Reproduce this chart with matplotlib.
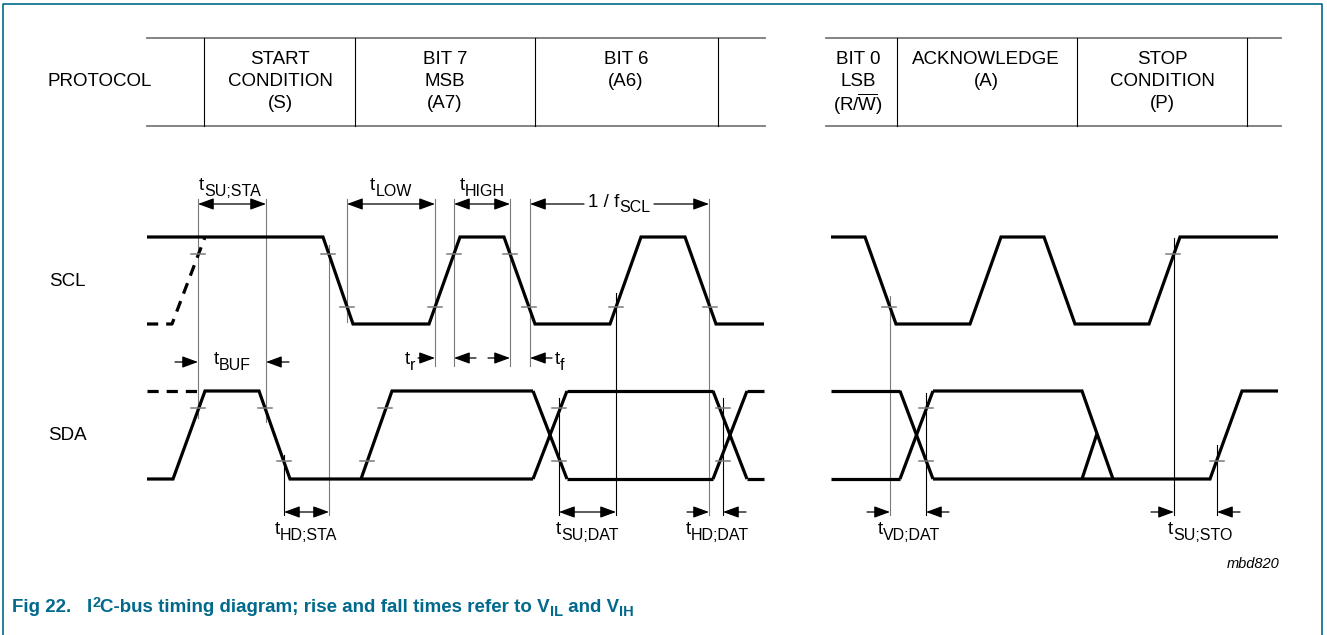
import matplotlib
matplotlib.use("Agg")
import matplotlib.pyplot as plt

plt.rcParams['font.family'] = ['Liberation Sans', 'DejaVu Sans']

# ---------------------------------------------------------------------
# Diagram geometry (pixel space of the 1327 x 635 picture)
# ---------------------------------------------------------------------
W, H = 1327, 635
TEAL = '#00698c'
GRAY = '#7a7a7a'
FS, FS_SUB = 13.5, 11.5

# signal levels and VIL / VIH thresholds
SCL_HI, SCL_LO = 237, 324
SDA_HI, SDA_LO = 391, 479
SCL_VIH, SCL_VIL = 254, 307
SDA_VIH, SDA_VIL = 408, 461

# waveform break points: x positions and logic state (1 = high)
scl_a_x = [147, 323, 353, 429, 460, 504, 535, 610, 641, 685, 716, 764]
scl_a_s = [1, 1, 0, 0, 1, 1, 0, 0, 1, 1, 0, 0]
scl_dash_x = [147, 172, 205]
scl_dash_s = [0, 0, 1]
scl_b_x = [831, 865, 896, 970, 1001, 1044, 1075, 1149, 1180, 1278]
scl_b_s = [1, 1, 0, 0, 1, 1, 0, 0, 1, 1]

sda_dash_x = [147, 198]
sda_main_x = [147, 173, 205, 259, 290, 533]
sda_main_s = [0, 0, 1, 1, 0, 0]
sda_rise_x = [361, 392, 533]
sda_rise_s = [0, 1, 1]
sda_cross = [(533, 567), (713, 747), (900, 933)]
sda_rails = [(567, 713), (747, 764), (831, 900)]
sda_b_hi_x = [933, 1082, 1113]
sda_b_hi_s = [1, 1, 0]
sda_b_lo_x = [933, 1210, 1242, 1278]
sda_b_lo_s = [0, 0, 1, 1]
sda_partial = (1082, 1097)

# threshold tick marks
scl_vih_ticks = [198, 328, 454, 510, 1173]
scl_vil_ticks = [347, 435, 529, 616, 710, 889]
sda_vih_ticks = [198, 265, 385, 559, 723, 926]
sda_vil_ticks = [284, 367, 559, 723, 926, 1217]

# vertical reference lines: x, top, bottom, colour
vlines = [
    (198, 199, 418, GRAY), (266, 199, 422, GRAY), (329, 245, 515, GRAY),
    (347, 199, 322, GRAY), (435, 199, 366, GRAY), (454, 199, 366, GRAY),
    (510, 199, 366, GRAY), (530, 199, 366, GRAY), (709, 199, 515, GRAY),
    (284, 455, 515, 'k'), (616, 293, 515, 'k'), (559, 398, 515, 'k'),
    (723, 398, 515, 'k'), (890, 296, 515, GRAY), (926, 393, 515, 'k'),
    (1174, 238, 515, 'k'), (1217, 445, 515, 'k'),
]

# dimension arrows between two lines (<->): x0, x1, y
inner_dims = [(198, 266, 204), (347, 435, 204), (454, 510, 204),
              (284, 329, 512), (559, 616, 512)]
# arrows coming in from outside: tail x, head x, y
outer_dims = [(175, 198, 362), (289, 266, 362),
              (418, 435, 358), (476, 454, 358),
              (488, 510, 358), (552, 530, 358),
              (687, 709, 512), (746, 723, 512),
              (867, 890, 512), (949, 926, 512),
              (1151, 1174, 512), (1240, 1217, 512)]

# timing labels: subscript, x, baseline y, alignment
tlabels = [
    ('SU;STA', 230, 190, 'center'),
    ('LOW', 391, 190, 'center'),
    ('HIGH', 482, 190, 'center'),
    ('BUF', 232, 364, 'center'),
    ('r', 415, 364, 'right'),
    ('f', 555, 364, 'left'),
    ('HD;STA', 306, 534, 'center'),
    ('SU;DAT', 587, 534, 'center'),
    ('HD;DAT', 717, 534, 'center'),
    ('VD;DAT', 909, 534, 'center'),
    ('SU;STO', 1200, 534, 'center'),
]

# protocol header
table_y = (38, 126)
table_segments = [(147, 765), (826, 1281)]
table_seps = [204, 355, 535, 718, 897, 1077, 1247]
proto_cells = [
    (100, ['PROTOCOL'], 82),
    (280, ['START', 'CONDITION', '(S)'], 60),
    (445, ['BIT 7', 'MSB', '(A7)'], 60),
    (626, ['BIT 6', '(A6)'], 60),
    (858, ['BIT 0', 'LSB', r'(R/$\mathregular{\overline{W}}$)'], 60),
    (986, ['ACKNOWLEDGE', '(A)'], 60),
    (1162, ['STOP', 'CONDITION', '(P)'], 60),
]


def levels(states, hi, lo):
    return [hi if s else lo for s in states]


fig = plt.figure(figsize=(W / 100, H / 100), dpi=100)
ax = fig.add_axes([0, 0, 1, 1])
ax.set_xlim(0, W)
ax.set_ylim(H, 0)
ax.axis('off')
renderer = fig.canvas.get_renderer()


def rich(x, y, pieces, ha='left', **kw):
    # lay out (text, size, dy) pieces side by side on one baseline
    objs = [ax.text(0, 0, txt, fontsize=size, ha='left', va='baseline', **kw)
            for txt, size, dy in pieces]
    widths = [t.get_window_extent(renderer).width for t in objs]
    total = sum(widths)
    left = {'left': x, 'center': x - total / 2, 'right': x - total}[ha]
    for t, w, (_, _, dy) in zip(objs, widths, pieces):
        t.set_position((left, y + dy))
        left += w


# frame
ax.plot([3, 3, 1322, 1322], [H, 4, 4, H], color=TEAL, lw=1.2)

# protocol table
for x0, x1 in table_segments:
    for y in table_y:
        ax.plot([x0, x1], [y, y], color=GRAY, lw=1.3)
for x in table_seps:
    ax.plot([x, x], table_y, color='k', lw=0.8)
for x, lines, y0 in proto_cells:
    for i, txt in enumerate(lines):
        ax.text(x, y0 + 22 * i, txt, ha='center', va='center', fontsize=FS)

ax.text(67, 281, 'SCL', ha='center', va='center', fontsize=FS)
ax.text(67, 436, 'SDA', ha='center', va='center', fontsize=FS)

# reference lines first so the waveforms sit on top
for x, y0, y1, c in vlines:
    ax.plot([x, x], [y0, y1], color=c, lw=0.8)

wave = dict(color='k', lw=2.3, solid_joinstyle='miter', solid_capstyle='butt')
dash = dict(color='k', lw=2.3, linestyle=(0, (3.5, 2.5)))

# SCL
ax.plot(scl_a_x, levels(scl_a_s, SCL_HI, SCL_LO), **wave)
ax.plot(scl_dash_x, levels(scl_dash_s, SCL_HI, SCL_LO), **dash)
ax.plot(scl_b_x, levels(scl_b_s, SCL_HI, SCL_LO), **wave)

# SDA
ax.plot(sda_dash_x, [SDA_HI, SDA_HI], **dash)
ax.plot(sda_main_x, levels(sda_main_s, SDA_HI, SDA_LO), **wave)
ax.plot(sda_rise_x, levels(sda_rise_s, SDA_HI, SDA_LO), **wave)
for x0, x1 in sda_cross:
    ax.plot([x0, x1], [SDA_HI, SDA_LO], **wave)
    ax.plot([x0, x1], [SDA_LO, SDA_HI], **wave)
for x0, x1 in sda_rails:
    ax.plot([x0, x1], [SDA_HI, SDA_HI], **wave)
    ax.plot([x0, x1], [SDA_LO, SDA_LO], **wave)
ax.plot(sda_b_hi_x, levels(sda_b_hi_s, SDA_HI, SDA_LO), **wave)
ax.plot(sda_b_lo_x, levels(sda_b_lo_s, SDA_HI, SDA_LO), **wave)
px0, px1 = sda_partial
fall_x0, fall_x1 = sda_b_hi_x[1], sda_b_hi_x[2]
mid_y = SDA_HI + (SDA_LO - SDA_HI) * (px1 - fall_x0) / (fall_x1 - fall_x0)
ax.plot([px0, px1], [SDA_LO, mid_y], **wave)

# threshold ticks
for xs, y in [(scl_vih_ticks, SCL_VIH), (scl_vil_ticks, SCL_VIL),
              (sda_vih_ticks, SDA_VIH), (sda_vil_ticks, SDA_VIL)]:
    for x in xs:
        ax.plot([x - 7, x + 7], [y, y], color=GRAY, lw=1.1)

# arrows
head = '-|>,head_length=0.6,head_width=0.22'
both = '<|-|>,head_length=0.6,head_width=0.22'
aprops = dict(color='k', lw=0.9, mutation_scale=16, shrinkA=0, shrinkB=0)
for x0, x1, y in inner_dims:
    ax.annotate('', xy=(x1, y), xytext=(x0, y),
                arrowprops=dict(arrowstyle=both, **aprops))
for x0, x1, y in outer_dims:
    ax.annotate('', xy=(x1, y), xytext=(x0, y),
                arrowprops=dict(arrowstyle=head, **aprops))

# 1 / fSCL arrow with a gap for the label
ax.annotate('', xy=(530, 204), xytext=(584, 204),
            arrowprops=dict(arrowstyle=head, **aprops))
ax.annotate('', xy=(709, 204), xytext=(654, 204),
            arrowprops=dict(arrowstyle=head, **aprops))
rich(619, 207, [('1 / f', FS, 0), ('SCL', FS_SUB, 5)], ha='center')

for sub, x, y, ha in tlabels:
    rich(x, y, [('t', FS, 0), (sub, FS_SUB, 6)], ha=ha)

ax.text(1253, 564, 'mbd820', ha='center', va='center', fontsize=10.5,
        style='italic')

cap = dict(fontweight='bold', color=TEAL,
           family=['Liberation Sans Narrow', 'Liberation Sans'])
rich(12, 612, [('Fig 22.   I', 13.5, 0), ('2', 10.5, -5),
               ('C-bus timing diagram; rise and fall times refer to V', 13.5, 0),
               ('IL', 10.5, 4), (' and V', 13.5, 0), ('IH', 10.5, 4)],
     ha='left', **cap)

fig.savefig('out.png', dpi=100)
